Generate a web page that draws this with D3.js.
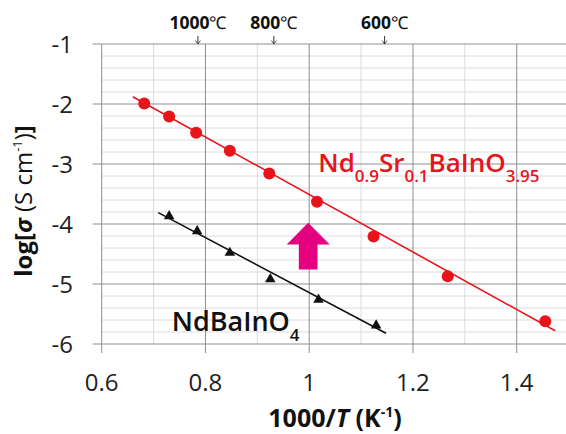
<!DOCTYPE html>
<html>
<head>
<meta charset="utf-8">
<script src="https://cdn.jsdelivr.net/npm/d3@7"></script>
<style>
  body { margin: 0; background: #fff; }
  svg { display: block; font-family: "Open Sans", sans-serif; }
</style>
</head>
<body>
<script>
// data
const sr_x = [0.682, 0.730, 0.782, 0.847, 0.923, 1.015, 1.124, 1.267, 1.455];
const sr_y = [-1.99, -2.21, -2.48, -2.78, -3.16, -3.63, -4.21, -4.87, -5.62];
const nd_x = [0.730, 0.784, 0.847, 0.925, 1.018, 1.129];
const nd_y = [-3.87, -4.12, -4.48, -4.92, -5.26, -5.69];
// fitted lines, end points
const sr_fit_x = [0.660, 1.474];
const sr_fit_y = [-1.88, -5.78];
const nd_fit_x = [0.709, 1.148];
const nd_fit_y = [-3.81, -5.82];
// tick labels
const x_ticks = [0.6, 0.8, 1.0, 1.2, 1.4];
const y_ticks = [-1, -2, -3, -4, -5, -6];
const temps_C = [1000, 800, 600];

const W = 566, H = 434;
const svg = d3.select('body').append('svg').attr('width', W).attr('height', H);

const x = d3.scaleLinear().domain([0.6, 1.5]).range([101.7, 568.6]);
const y = d3.scaleLinear().domain([-6, -1]).range([344, 44]);

/*
  grid
*/
const grid = svg.append('g');
// minor horizontal every 0.2
grid.selectAll('line.hmin')
  .data(d3.range(-6, -0.99, 0.2).filter(v => Math.abs(v - Math.round(v)) > 0.01))
  .enter().append('line')
    .attr('x1', x(0.6)).attr('x2', W)
    .attr('y1', d => y(d)).attr('y2', d => y(d))
    .attr('stroke', '#dcdcdc').attr('stroke-width', 1);
// minor vertical every 0.1
grid.selectAll('line.vmin')
  .data([0.7, 0.9, 1.1, 1.3])
  .enter().append('line')
    .attr('x1', d => x(d)).attr('x2', d => x(d))
    .attr('y1', y(-1)).attr('y2', y(-6))
    .attr('stroke', '#dcdcdc').attr('stroke-width', 1);
// major lines with outer ticks
grid.selectAll('line.hmaj')
  .data(y_ticks)
  .enter().append('line')
    .attr('x1', x(0.6) - 9).attr('x2', W)
    .attr('y1', d => y(d)).attr('y2', d => y(d))
    .attr('stroke', '#8f8f8f').attr('stroke-width', 1);
grid.selectAll('line.vmaj')
  .data(x_ticks)
  .enter().append('line')
    .attr('x1', d => x(d)).attr('x2', d => x(d))
    .attr('y1', y(-1)).attr('y2', y(-6) + 9)
    .attr('stroke', '#8f8f8f').attr('stroke-width', 1);

/*
  axis labels
*/
svg.selectAll('text.ytick')
  .data(y_ticks)
  .enter().append('text')
    .attr('x', 73).attr('y', d => y(d) + 9)
    .attr('text-anchor', 'end')
    .attr('font-size', 24).attr('fill', '#222')
    .text(d => d);

svg.selectAll('text.xtick')
  .data(x_ticks)
  .enter().append('text')
    .attr('x', d => x(d)).attr('y', 391)
    .attr('text-anchor', 'middle')
    .attr('font-size', 24).attr('fill', '#222')
    .text(d => d === 1 ? '1' : d3.format('.1f')(d));

const xt = svg.append('text')
  .attr('x', 335).attr('y', 427)
  .attr('text-anchor', 'middle')
  .attr('font-size', 25).attr('font-weight', 'bold').attr('fill', '#111');
xt.append('tspan').text('1000/');
xt.append('tspan').attr('font-style', 'italic').text('T');
xt.append('tspan').text(' (K');
xt.append('tspan').attr('font-size', 14).attr('dy', -10).text('-1');
xt.append('tspan').attr('dy', 10).text(')');

const yt = svg.append('text')
  .attr('transform', 'translate(32,201) rotate(-90)')
  .attr('text-anchor', 'middle')
  .attr('font-size', 24).attr('font-weight', 'bold').attr('fill', '#111');
yt.append('tspan').text('log[');
yt.append('tspan').attr('font-style', 'italic').text('σ');
yt.append('tspan').attr('font-weight', 'normal').text(' (S cm');
yt.append('tspan').attr('font-weight', 'normal').attr('font-size', 13).attr('dy', -10).text('-1');
yt.append('tspan').attr('font-weight', 'normal').attr('dy', 10).text(')');
yt.append('tspan').text(']');

// temperature marks on top
const tg = svg.selectAll('g.temp')
  .data(temps_C)
  .enter().append('g')
    .attr('transform', d => `translate(${x(1000 / (d + 273.15))},0)`);
tg.append('line')
  .attr('y1', 36).attr('y2', 44)
  .attr('stroke', '#333').attr('stroke-width', 1);
tg.append('path')
  .attr('d', 'M-2.5,40.5 L0,44 L2.5,40.5')
  .attr('fill', 'none').attr('stroke', '#333').attr('stroke-width', 0.8);
const tl = tg.append('text')
  .attr('y', 29).attr('text-anchor', 'middle')
  .attr('font-size', 17.5).attr('fill', '#111');
tl.append('tspan').attr('font-weight', 'bold').text(d => d);
tl.append('tspan').text('℃');

/*
  series
*/
const line = d3.line().x(d => x(d[0])).y(d => y(d[1]));
const RED = '#e8141c';

svg.append('path')
  .datum(d3.zip(sr_fit_x, sr_fit_y))
  .attr('d', line)
  .attr('fill', 'none').attr('stroke', RED).attr('stroke-width', 1.6);
svg.append('path')
  .datum(d3.zip(nd_fit_x, nd_fit_y))
  .attr('d', line)
  .attr('fill', 'none').attr('stroke', '#111').attr('stroke-width', 1.6);

svg.selectAll('circle.sr')
  .data(d3.zip(sr_x, sr_y))
  .enter().append('circle')
    .attr('cx', d => x(d[0])).attr('cy', d => y(d[1]))
    .attr('r', 6).attr('fill', RED);

const tri = d3.symbol().type(d3.symbolTriangle).size(48);
svg.selectAll('path.nd')
  .data(d3.zip(nd_x, nd_y))
  .enter().append('path')
    .attr('d', tri)
    .attr('transform', d => `translate(${x(d[0])},${y(d[1])})`)
    .attr('fill', '#111');

// magenta arrow
const ax = 0.998, aTip = -3.98, aHead = -4.34, aBase = -4.76;
const hw = 0.0415, sw = 0.018;
const arrowPts = [
  [ax, aTip], [ax + hw, aHead], [ax + sw, aHead], [ax + sw, aBase],
  [ax - sw, aBase], [ax - sw, aHead], [ax - hw, aHead]
];
svg.append('path')
  .attr('d', line(arrowPts) + 'Z')
  .attr('fill', '#e4007f');

// series labels
const lr = svg.append('text')
  .attr('x', x(1.0175)).attr('y', y(-3.14))
  .attr('font-size', 26).attr('font-weight', 600).attr('fill', RED);
lr.append('tspan').text('Nd');
lr.append('tspan').attr('font-size', 17).attr('dy', 10).text('0.9');
lr.append('tspan').attr('dy', -10).text('Sr');
lr.append('tspan').attr('font-size', 17).attr('dy', 10).text('0.1');
lr.append('tspan').attr('dy', -10).text('BaInO');
lr.append('tspan').attr('font-size', 17).attr('dy', 10).text('3.95');

const lb = svg.append('text')
  .attr('x', x(0.735)).attr('y', y(-5.78))
  .attr('font-size', 27).attr('font-weight', 600).attr('fill', '#111');
lb.append('tspan').text('NdBaInO');
lb.append('tspan').attr('font-size', 17).attr('dy', 10).text('4');
</script>
</body>
</html>
